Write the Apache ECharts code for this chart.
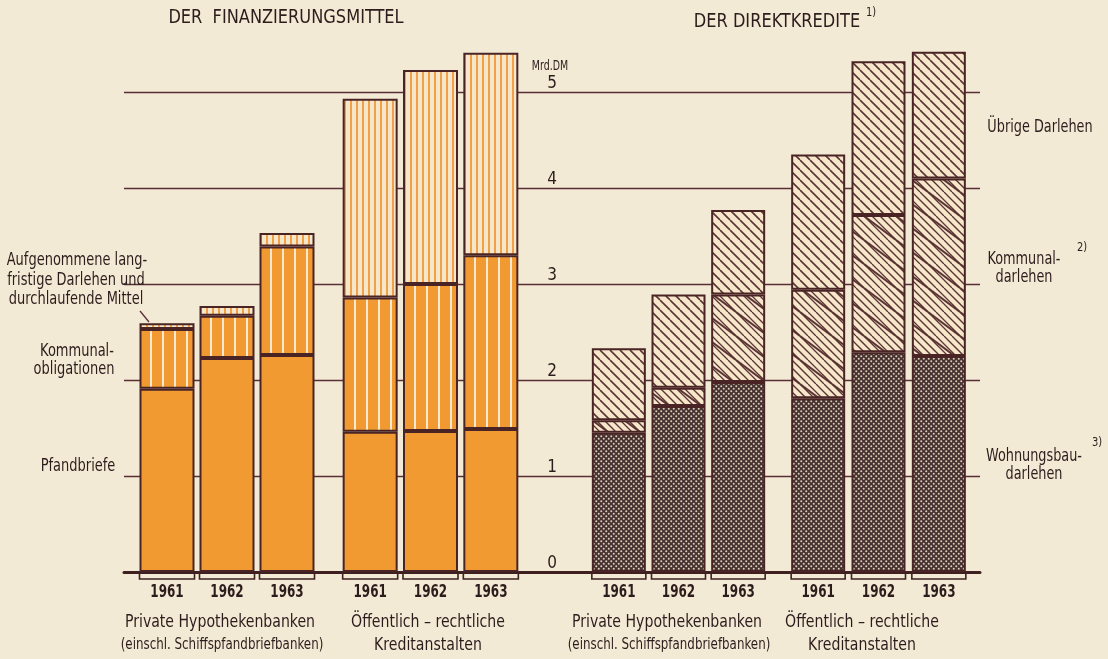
<!DOCTYPE html>
<html><head><meta charset="utf-8">
<script src="https://cdn.jsdelivr.net/npm/echarts@6/dist/echarts.min.js"></script>
<style>html,body{margin:0;padding:0;background:#f3ead5}#c{width:1108px;height:659px}</style>
</head><body><div id="c"></div>
<script>
// ---- data ----
const years = ['1961', '1962', '1963'];
const yTicks = ['0', '1', '2', '3', '4', '5'];
// Finanzierungsmittel (Mrd. DM)
const pfandPriv = [1.91, 2.23, 2.26];
const kommOblPriv = [0.62, 0.44, 1.13];
const aufgPriv = [0.06, 0.10, 0.14];
const pfandOeff = [1.46, 1.47, 1.49];
const kommOblOeff = [1.40, 1.53, 1.81];
const aufgOeff = [2.07, 2.23, 2.11];
// Direktkredite (Mrd. DM)
const wohnPriv = [1.45, 1.73, 1.98];
const kommDarPriv = [0.13, 0.19, 0.91];
const uebrPriv = [0.75, 0.97, 0.88];
const wohnOeff = [1.81, 2.29, 2.25];
const kommDarOeff = [1.13, 1.43, 1.85];
const uebrOeff = [1.41, 1.60, 1.32];

// ---- styling ----
const FONT = '"DejaVu Sans Condensed","DejaVu Sans",sans-serif';
const INK = '#2c1c1c';
const EDGE = '#4a2424';
const LINE = '#5a2e36';
const ORANGE = '#f19a31';
const CREAM = '#f6e7cb';

function pat(w, h, draw) {
  const c = document.createElement('canvas');
  c.width = w; c.height = h;
  const g = c.getContext('2d');
  draw(g, w, h);
  return { image: c, repeat: 'repeat' };
}
const pPfand = ORANGE;
const pKommObl = pat(12, 4, (g, w, h) => { g.fillStyle = ORANGE; g.fillRect(0, 0, w, h); g.fillStyle = '#fbe9cf'; g.fillRect(6, 0, 2, h); });
const pAufg = pat(6, 4, (g, w, h) => { g.fillStyle = CREAM; g.fillRect(0, 0, w, h); g.fillStyle = '#f0a048'; g.fillRect(2, 0, 2, h); });
const pUebr = pat(10, 10, (g, w, h) => {
  g.fillStyle = CREAM; g.fillRect(0, 0, w, h);
  g.strokeStyle = '#5a3434'; g.lineWidth = 1.6;
  for (const k of [-10, 0, 10]) { g.beginPath(); g.moveTo(k, 0); g.lineTo(k + 10, 10); g.stroke(); }
});
const pKommDar = pat(32, 24, (g, w, h) => {
  g.fillStyle = CREAM; g.fillRect(0, 0, w, h);
  g.strokeStyle = '#5a3434'; g.lineWidth = 1.3;
  for (let k = -32; k <= 32; k += 8) { g.beginPath(); g.moveTo(k, 0); g.lineTo(k + 24, 24); g.stroke(); }
  g.lineWidth = 2.0;
  for (const dx of [-32, 0, 32]) for (const dy of [-24, 0, 24]) {
    g.beginPath(); g.moveTo(dx, dy); g.lineTo(dx + 32, dy + 24); g.stroke();
  }
});
const pWohn = pat(5, 5, (g, w, h) => {
  g.fillStyle = '#473232'; g.fillRect(0, 0, w, h);
  g.fillStyle = '#ddd0b8';
  g.beginPath(); g.arc(1.25, 1.25, 1.0, 0, Math.PI * 2); g.fill();
  g.beginPath(); g.arc(3.75, 3.75, 1.0, 0, Math.PI * 2); g.fill();
});

const TOP = -4, BOTTOM = 87;
const groupGrids = [
  { left: 137, width: 180 },
  { left: 340, width: 181 },
  { left: 589, width: 179 },
  { left: 788, width: 181 }
];
const grids = groupGrids.map(g => ({ left: g.left, width: g.width, top: TOP, bottom: BOTTOM, outerBoundsMode: 'none' }));
grids.push({ left: 124, width: 856, top: TOP, bottom: BOTTOM, outerBoundsMode: 'none' }); // gridlines
grids.push({ left: 552, width: 1, top: TOP, bottom: BOTTOM, outerBoundsMode: 'none' });   // tick labels

const xAxes = groupGrids.map((g, i) => ({
  type: 'category', gridIndex: i, data: years,
  axisLine: { show: false }, axisTick: { show: false }, axisLabel: { show: false }
}));
xAxes.push({ type: 'value', gridIndex: 4, min: 0, max: 1, axisLabel: { show: false }, axisTick: { show: false }, splitLine: { show: false },
  axisLine: { show: true, onZero: false, lineStyle: { color: '#3e2020', width: 3 } } });
xAxes.push({ type: 'value', gridIndex: 5, min: 0, max: 1, show: false });

const yBase = { type: 'value', min: 0, max: 6, interval: 1 };
const yAxes = groupGrids.map((g, i) => Object.assign({}, yBase, { gridIndex: i, show: false }));
yAxes.push(Object.assign({}, yBase, { gridIndex: 4, axisLine: { show: false }, axisTick: { show: false }, axisLabel: { show: false },
  splitLine: { show: true, lineStyle: { color: LINE, width: 1.3 } } }));
yAxes.push(Object.assign({}, yBase, { gridIndex: 5, axisLine: { show: false }, axisTick: { show: false }, splitLine: { show: false },
  axisLabel: { margin: 0, align: 'center', verticalAlign: 'bottom', color: INK, fontFamily: FONT, fontSize: 17,
    formatter: v => (yTicks.includes(String(v)) ? String(v) : '') } }));

function bar(i, name, data, color) {
  return { type: 'bar', name, xAxisIndex: i, yAxisIndex: i, stack: 's' + i, data, barWidth: i < 2 ? 55 : 54,
    itemStyle: { color, borderColor: EDGE, borderWidth: 2 }, z: 3, silent: true };
}
// bracket under each bar + year label, placed through the category scale
function yearMarks(i) {
  return { type: 'custom', xAxisIndex: i, yAxisIndex: i, data: years.map(y => [y, 0]), z: 4, silent: true,
    renderItem: (params, api) => {
      const c = api.coord([api.value(0), 0]);
      const hw = (i < 2 ? 55 : 54) / 2;
      const y = c[1] + 7;
      return { type: 'group', children: [
        { type: 'polyline', shape: { points: [[c[0] - hw, y - 6], [c[0] - hw, y], [c[0] + hw, y], [c[0] + hw, y - 6]] },
          style: { stroke: '#3e2020', lineWidth: 1.6, fill: null } },
        { type: 'text', x: c[0], y: c[1] + 20, scaleX: 0.74,
          style: { text: years[params.dataIndex], fill: INK, font: 'bold 18px ' + FONT, align: 'center', verticalAlign: 'middle' } }
      ] };
    } };
}

const series = [
  bar(0, 'Pfandbriefe', pfandPriv, pPfand), bar(0, 'Kommunalobligationen', kommOblPriv, pKommObl), bar(0, 'Aufgenommene Darlehen', aufgPriv, pAufg),
  bar(1, 'Pfandbriefe', pfandOeff, pPfand), bar(1, 'Kommunalobligationen', kommOblOeff, pKommObl), bar(1, 'Aufgenommene Darlehen', aufgOeff, pAufg),
  bar(2, 'Wohnungsbaudarlehen', wohnPriv, pWohn), bar(2, 'Kommunaldarlehen', kommDarPriv, pKommDar), bar(2, 'Übrige Darlehen', uebrPriv, pUebr),
  bar(3, 'Wohnungsbaudarlehen', wohnOeff, pWohn), bar(3, 'Kommunaldarlehen', kommDarOeff, pKommDar), bar(3, 'Übrige Darlehen', uebrOeff, pUebr),
  yearMarks(0), yearMarks(1), yearMarks(2), yearMarks(3)
];

function txt(x, y, text, size, sx, align) {
  return { type: 'text', x, y, z: 10, silent: true, scaleX: sx,
    style: { text, fill: INK, font: size + 'px ' + FONT, align: align || 'center', verticalAlign: 'middle' } };
}
const graphic = [
  txt(286, 18, 'DER  FINANZIERUNGSMITTEL', 20, 0.9),
  txt(777, 22, 'DER DIREKTKREDITE', 20, 0.9),
  txt(866, 13, '1)', 13, 0.85, 'left'),
  txt(550, 66, 'Mrd.DM', 14, 0.75),
  txt(77, 261, 'Aufgenommene lang-', 17, 0.85),
  txt(76, 281, 'fristige Darlehen und', 17, 0.85),
  txt(76, 300, 'durchlaufende Mittel', 17, 0.85),
  txt(77, 352, 'Kommunal-', 17, 0.85),
  txt(74, 370, 'obligationen', 17, 0.85),
  txt(78, 467, 'Pfandbriefe', 17, 0.85),
  txt(1040, 128, 'Übrige Darlehen', 17, 0.84),
  txt(1024, 260, 'Kommunal-', 17, 0.84),
  txt(1077, 248, '2)', 13, 0.85, 'left'),
  txt(1024, 278, 'darlehen', 17, 0.84),
  txt(1034, 457, 'Wohnungsbau-', 17, 0.84),
  txt(1092, 443, '3)', 13, 0.85, 'left'),
  txt(1034, 475, 'darlehen', 17, 0.84),
  txt(220, 622, 'Private Hypothekenbanken', 18, 0.87),
  txt(222, 645, '(einschl. Schiffspfandbriefbanken)', 15, 0.88),
  txt(428, 622, 'Öffentlich – rechtliche', 18, 0.87),
  txt(428, 645, 'Kreditanstalten', 18, 0.87),
  txt(667, 622, 'Private Hypothekenbanken', 18, 0.87),
  txt(669, 645, '(einschl. Schiffspfandbriefbanken)', 15, 0.88),
  txt(862, 622, 'Öffentlich – rechtliche', 18, 0.87),
  txt(862, 645, 'Kreditanstalten', 18, 0.87),
  { type: 'line', z: 10, silent: true, shape: { x1: 140, y1: 311, x2: 149, y2: 322 }, style: { stroke: LINE, lineWidth: 1.3 } }
];

const chart = echarts.init(document.getElementById('c'), null, { renderer: 'canvas' });
chart.setOption({
  backgroundColor: '#f3ead5',
  animation: false,
  grid: grids, xAxis: xAxes, yAxis: yAxes, series, graphic
});
</script></body></html>
